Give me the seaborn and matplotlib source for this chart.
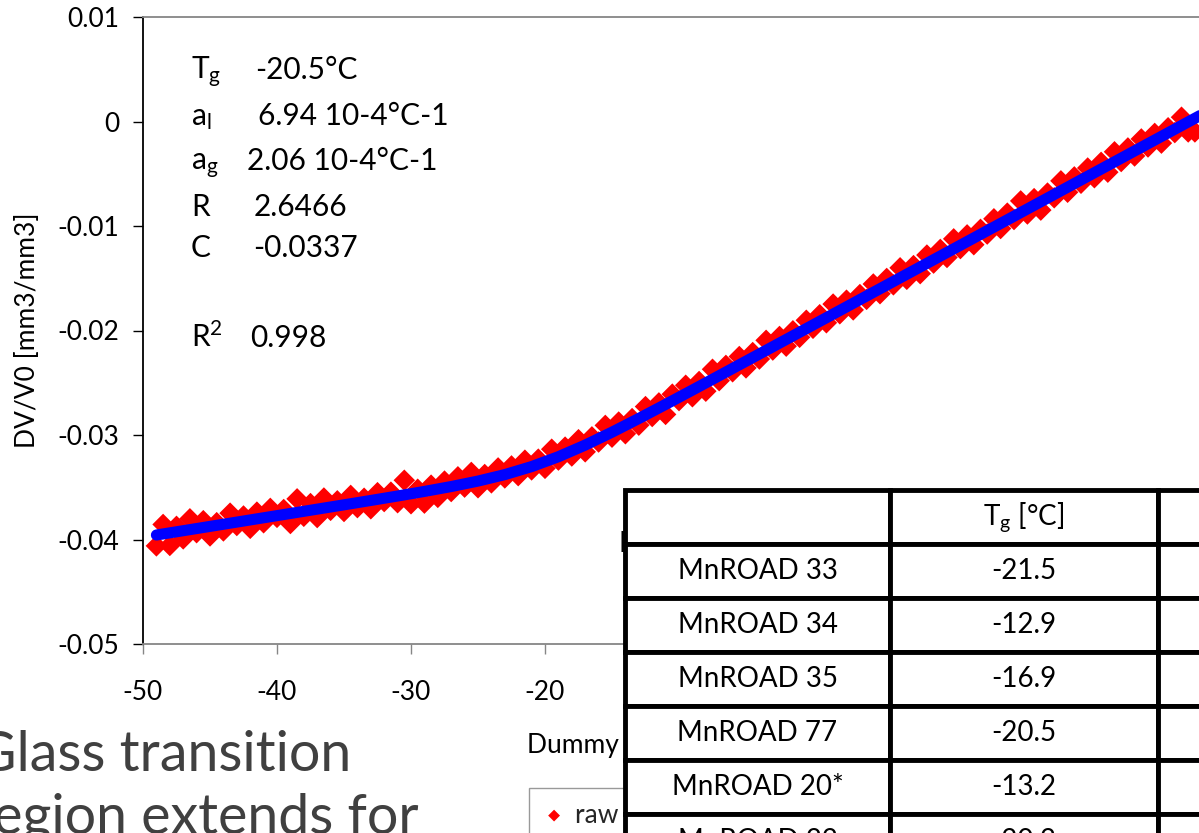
import matplotlib
matplotlib.use("Agg")
import matplotlib.pyplot as plt
import seaborn as sns

# ---- measured dilatometric data: temperature [°C] vs volumetric strain DV/V0 ----
raw_temp = [
    -49.0, -48.5, -48.0, -47.5, -47.0, -46.5, -46.0, -45.5, -45.0, -44.5,
    -44.0, -43.5, -43.0, -42.5, -42.0, -41.5, -41.0, -40.5, -40.0, -39.5,
    -39.0, -38.5, -38.0, -37.5, -37.0, -36.5, -36.0, -35.5, -35.0, -34.5,
    -34.0, -33.5, -33.0, -32.5, -32.0, -31.5, -31.0, -30.5, -30.0, -29.5,
    -29.0, -28.5, -28.0, -27.5, -27.0, -26.5, -26.0, -25.5, -25.0, -24.5,
    -24.0, -23.5, -23.0, -22.5, -22.0, -21.5, -21.0, -20.5, -20.0, -19.5,
    -19.0, -18.5, -18.0, -17.5, -17.0, -16.5, -16.0, -15.5, -15.0, -14.5,
    -14.0, -13.5, -13.0, -12.5, -12.0, -11.5, -11.0, -10.5, -10.0, -9.5,
    -9.0, -8.5, -8.0, -7.5, -7.0, -6.5, -6.0, -5.5, -5.0, -4.5,
    -4.0, -3.5, -3.0, -2.5, -2.0, -1.5, -1.0, -0.5, 0.0, 0.5,
    1.0, 1.5, 2.0, 2.5, 3.0, 3.5, 4.0, 4.5, 5.0, 5.5,
    6.0, 6.5, 7.0, 7.5, 8.0, 8.5, 9.0, 9.5, 10.0, 10.5,
    11.0, 11.5, 12.0, 12.5, 13.0, 13.5, 14.0, 14.5, 15.0, 15.5,
    16.0, 16.5, 17.0, 17.5, 18.0, 18.5, 19.0, 19.5, 20.0, 20.5,
    21.0, 21.5, 22.0, 22.5, 23.0, 23.5, 24.0, 24.5, 25.0, 25.5,
    26.0, 26.5, 27.0, 27.5, 28.0, 28.5,
]
raw_dv = [
    -0.04061, -0.03856, -0.04057, -0.03874, -0.03994, -0.03802, -0.03935, -0.03820, -0.03966, -0.03839,
    -0.03918, -0.03748, -0.03866, -0.03775, -0.03893, -0.03738, -0.03840, -0.03702, -0.03788, -0.03713,
    -0.03847, -0.03611, -0.03778, -0.03656, -0.03790, -0.03603, -0.03721, -0.03630, -0.03732, -0.03578,
    -0.03695, -0.03605, -0.03706, -0.03552, -0.03637, -0.03547, -0.03648, -0.03433, -0.03658, -0.03519,
    -0.03652, -0.03480, -0.03597, -0.03441, -0.03541, -0.03400, -0.03499, -0.03358, -0.03505, -0.03378,
    -0.03458, -0.03315, -0.03411, -0.03296, -0.03389, -0.03241, -0.03334, -0.03231, -0.03319, -0.03136,
    -0.03240, -0.03116, -0.03201, -0.03045, -0.03161, -0.03018, -0.03067, -0.02908, -0.03021, -0.02876,
    -0.02988, -0.02843, -0.02906, -0.02728, -0.02823, -0.02693, -0.02803, -0.02609, -0.02671, -0.02524,
    -0.02634, -0.02488, -0.02581, -0.02371, -0.02480, -0.02334, -0.02395, -0.02249, -0.02358, -0.02211,
    -0.02273, -0.02094, -0.02187, -0.02057, -0.02150, -0.02003, -0.02065, -0.01902, -0.01979, -0.01849,
    -0.01926, -0.01747, -0.01840, -0.01710, -0.01803, -0.01656, -0.01702, -0.01555, -0.01648, -0.01502,
    -0.01563, -0.01400, -0.01510, -0.01379, -0.01456, -0.01278, -0.01355, -0.01224, -0.01301, -0.01123,
    -0.01216, -0.01085, -0.01179, -0.01032, -0.01077, -0.00931, -0.01024, -0.00877, -0.00938, -0.00760,
    -0.00885, -0.00738, -0.00848, -0.00685, -0.00730, -0.00568, -0.00677, -0.00530, -0.00591, -0.00445,
    -0.00538, -0.00391, -0.00485, -0.00290, -0.00383, -0.00253, -0.00330, -0.00167, -0.00244, -0.00114,
    -0.00207, -0.00060, -0.00106, 0.00041, -0.00100, -0.00100,
]

# ---- fitted glass-transition model curve ----
fit_temp = [
    -49, -47, -45, -43, -41, -39, -37, -35, -33, -31,
    -29, -27, -25, -23, -21, -19, -17, -15, -13, -11,
    -9, -7, -5, -3, -1, 1, 3, 5, 7, 9,
    11, 13, 15, 17, 19, 21, 23, 25, 27, 29,
]
fit_dv = [
    -0.039571, -0.039159, -0.038747, -0.038335, -0.037922, -0.037510, -0.037096, -0.036682, -0.036264, -0.035839,
    -0.035400, -0.034933, -0.034410, -0.033791, -0.033024, -0.032079, -0.030966, -0.029731, -0.028421, -0.027072,
    -0.025703, -0.024323, -0.022939, -0.021553, -0.020166, -0.018779, -0.017391, -0.016003, -0.014615, -0.013227,
    -0.011839, -0.010451, -0.009063, -0.007675, -0.006287, -0.004899, -0.003511, -0.002123, -0.000736, 0.000652,
]

# ---- fit parameters ----
param_labels = [r"T$_\mathrm{g}$", r"a$_\mathrm{l}$", r"a$_\mathrm{g}$", "R", "C", r"R$^2$"]
param_values = ["-20.5°C", "6.94 10-4°C-1", "2.06 10-4°C-1", "2.6466", "-0.0337", "0.998"]

# ---- axis ticks ----
x_ticks = [-50, -40, -30, -20, -10, 0, 10, 20, 30]
x_tick_labels = ["-50", "-40", "-30", "-20", "-10", "0", "10", "20", "30"]
y_ticks = [-0.05, -0.04, -0.03, -0.02, -0.01, 0.0, 0.01]
y_tick_labels = ["-0.05", "-0.04", "-0.03", "-0.02", "-0.01", "0", "0.01"]

# ---- summary table ----
table_header = [r"", r"T$_\mathrm{g}$ [°C]", ""]
sample_names = ["MnROAD 33", "MnROAD 34", "MnROAD 35", "MnROAD 77", "MnROAD 20*", "MnROAD 22"]
sample_tg = ["-21.5", "-12.9", "-16.9", "-20.5", "-13.2", "-20.2"]

sns.set_theme(style="white")
plt.rcParams["font.family"] = ["Lato", "DejaVu Sans"]
plt.rcParams["mathtext.fontset"] = "custom"
plt.rcParams["mathtext.rm"] = "Lato"
plt.rcParams["mathtext.it"] = "Lato:italic"
plt.rcParams["mathtext.bf"] = "Lato:bold"
plt.rcParams["axes.unicode_minus"] = False

W, H = 1199, 833
fig = plt.figure(figsize=(W / 100, H / 100), dpi=100)
fig.patch.set_facecolor("white")


def fx(px):
    return px / W


def fy(py):
    return 1 - py / H


# main chart area (extends past the right edge of the slide)
ax = fig.add_axes([fx(143), fy(644), 1072 / W, 627 / H])
ax.set_facecolor("white")

sns.scatterplot(x=raw_temp, y=raw_dv, marker="D", s=120, color="#FF0000",
                edgecolor="none", linewidth=0, ax=ax, label="raw data", zorder=2)
sns.lineplot(x=fit_temp, y=fit_dv, color="#0000FF", linewidth=8, ax=ax,
             label="model", zorder=3)

ax.set_xlim(-50, 30)
ax.set_ylim(-0.05, 0.01)
ax.set_xticks(x_ticks)
ax.set_xticklabels(x_tick_labels)
ax.set_yticks(y_ticks)
ax.set_yticklabels(y_tick_labels)

for side in ["top", "bottom"]:
    ax.spines[side].set_color("#868686")
    ax.spines[side].set_linewidth(1.3)
ax.spines["left"].set_color("black")
ax.spines["left"].set_linewidth(1.3)
ax.spines["right"].set_visible(False)

ax.tick_params(axis="y", left=True, direction="out", length=7, width=1,
               color="black", pad=10, labelsize=19, labelcolor="black")
ax.tick_params(axis="x", bottom=True, direction="out", length=7, width=1,
               color="#868686", pad=19, labelsize=19, labelcolor="black")

ax.set_ylabel("DV/V0 [mm3/mm3]", fontsize=19, color="black")
ax.yaxis.label.set_va("center")
ax.yaxis.set_label_coords((28 - 143) / 1072, 0.5)
ax.set_xlabel("Dummy temperature [°C]", fontsize=19, color="black")
ax.xaxis.label.set_ha("left")
ax.xaxis.label.set_va("center")
ax.xaxis.set_label_coords((527 - 143) / 1072, (644 - 745) / 627)

# sample name annotation inside the chart
ax.text(-14.48, -0.04124, "MnROAD 77", fontsize=20, color="black",
        ha="left", va="baseline", zorder=1)

leg = ax.legend(loc="upper left", bbox_to_anchor=(fx(529), fy(788)),
                bbox_transform=fig.transFigure, fontsize=19, frameon=True,
                fancybox=False, edgecolor="#808080", markerscale=0.55,
                handlelength=0.8, handletextpad=0.4, borderpad=0.55,
                borderaxespad=0, labelspacing=0.6)
leg.get_frame().set_linewidth(1.0)

# fit parameter block
label_x = 191
value_x = [255, 258, 247, 254, 253, 250]
row_baseline = [79, 125, 170, 216, 257, 347]
for lab, val, vx, by in zip(param_labels, param_values, value_x, row_baseline):
    fig.text(fx(label_x), fy(by), lab, fontsize=21.5, color="black", va="baseline")
    fig.text(fx(vx), fy(by), val, fontsize=21.5, color="black", va="baseline")

# slide bullet text
fig.text(fx(-24), fy(771), "Glass transition", fontsize=40, color="#404040", va="baseline")
fig.text(fx(-27), fy(834), "region extends for", fontsize=40, color="#404040", va="baseline")

# summary table overlay
ax_tab = fig.add_axes([fx(625), fy(868), 800 / W, 378 / H])
ax_tab.axis("off")
rows = [[n, t, ""] for n, t in zip(sample_names, sample_tg)]
tab = ax_tab.table(cellText=[table_header] + rows, cellLoc="center",
                   bbox=[0, 0, 1, 1], colWidths=[265 / 800, 268 / 800, 267 / 800])
tab.auto_set_font_size(False)
tab.set_fontsize(20)
for (r, c), cell in tab.get_celld().items():
    cell.set_edgecolor("black")
    cell.set_linewidth(3.5)
    cell.set_facecolor("white")
    cell.get_text().set_color("black")

fig.savefig("out.png", dpi=100, facecolor="white")
